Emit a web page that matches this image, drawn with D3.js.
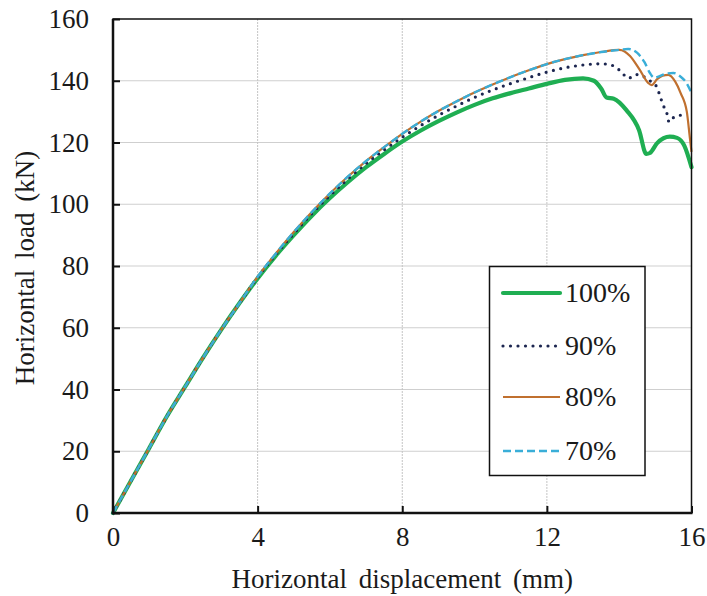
<!DOCTYPE html>
<html><head><meta charset="utf-8">
<script src="https://cdn.jsdelivr.net/npm/d3@7"></script>
<style>
html,body{margin:0;padding:0;background:#fff;}
svg text{font-family:"Liberation Serif","Times New Roman",Tinos,"Nimbus Roman","DejaVu Serif",serif !important;fill:#1a1a1a;}
</style></head>
<body><svg id="c" width="707" height="596"></svg>
<script>
// ---- data ----
const seriesNames = ["100%", "90%", "80%", "70%"];
const xTicks = [0, 4, 8, 12, 16];
const yTicks = [0, 20, 40, 60, 80, 100, 120, 140, 160];

const disp100 = [0,0.5,1,1.5,2,2.5,3,3.5,4,4.5,5,5.5,6,6.5,7,7.5,8,8.5,9,9.5,10,10.5,11,11.5,12,12.5,13,13.3,13.5,13.65,13.85,14.2,14.55,14.75,14.85,15.05,15.4,15.6,15.8,16];
const load100 = [0,10.5,21,31.5,41,50.5,59.5,68,76,83.3,90,96.3,102,107.2,112,116.3,120.3,123.8,126.9,129.7,132.2,134.3,136,137.5,139,140.3,140.8,140,137.5,134.6,134.2,130.5,124,116.3,116.6,119.8,121.9,121.5,119,112];

const disp90 = [0,0.5,1,1.5,2,2.5,3,3.5,4,4.5,5,5.5,6,6.5,7,7.5,8,8.5,9,9.5,10,10.5,11,11.5,12,12.5,13,13.5,13.8,14.05,14.25,14.48,14.65,14.85,15.04,15.13,15.22,15.32,15.38,15.46,15.55,15.77];
const load90 = [0,10.5,21,31.5,41,50.5,59.5,68,76.3,83.7,90.5,97,102.8,108.2,113.2,117.6,121.7,125.4,128.8,131.8,134.6,137,139.1,141,142.8,144.2,145.1,145.5,145,143,140.8,142,141.5,140,138,135,132,129.4,126.6,127.6,128.5,128.9];

const disp80 = [0,0.5,1,1.5,2,2.5,3,3.5,4,4.5,5,5.5,6,6.5,7,7.5,8,8.5,9,9.5,10,10.5,11,11.5,12,12.5,13,13.5,14,14.15,14.3,14.57,14.8,14.9,15.05,15.2,15.36,15.55,15.7,15.87,15.96,16];
const load80 = [0,10.5,21,31.5,41,50.5,59.5,68,76.5,84,91,97.5,103.5,109,114,118.5,122.8,126.7,130.2,133.3,136.2,138.8,141.2,143.4,145.4,147,148.3,149.3,150,149.5,148,143.5,139.3,138.6,140.5,141.6,141.9,139.7,136,130,121,117];

const disp70 = [0,0.5,1,1.5,2,2.5,3,3.5,4,4.5,5,5.5,6,6.5,7,7.5,8,8.5,9,9.5,10,10.5,11,11.5,12,12.5,13,13.5,14,14.25,14.5,14.7,14.85,14.97,15.1,15.3,15.5,15.7,15.85,16];
const load70 = [0,10.5,21,31.5,41,50.5,59.5,68,76.5,84,91,97.5,103.5,109,114,118.5,122.8,126.7,130.2,133.3,136.2,138.8,141.2,143.4,145.4,147,148.3,149.3,150,150.3,149,146,142.5,141,141.4,142.3,142.5,141.3,139.5,136];

const series = [
  {name: seriesNames[0], x: disp100, y: load100, color: "#1fae52", width: 4.2, dash: null, cap: "round"},
  {name: seriesNames[1], x: disp90,  y: load90,  color: "#1c2650", width: 3.2, dash: "0,7.5", cap: "round"},
  {name: seriesNames[2], x: disp80,  y: load80,  color: "#c0702f", width: 2.2, dash: null, cap: "butt"},
  {name: seriesNames[3], x: disp70,  y: load70,  color: "#3aaed8", width: 2.4, dash: "8,4", cap: "butt"}
];

// ---- layout ----
const FONT = '"Liberation Serif","Times New Roman",Tinos,"Nimbus Roman","DejaVu Serif",serif';
const svg = d3.select("#c");
const L = 113, R = 691.5, T = 19, B = 513;
const x = d3.scaleLinear().domain([0, 16]).range([L, R]);
const y = d3.scaleLinear().domain([0, 160]).range([B, T]);

// grid
svg.append("g").selectAll("line").data(yTicks.filter(d => d > 0 && d < 160)).join("line")
  .attr("x1", L).attr("x2", R).attr("y1", d => y(d)).attr("y2", d => y(d))
  .attr("stroke", "#cfcfcf").attr("stroke-width", 1);
svg.append("g").selectAll("line").data(xTicks.filter(d => d > 0 && d < 16)).join("line")
  .attr("y1", T).attr("y2", B).attr("x1", d => x(d)).attr("x2", d => x(d))
  .attr("stroke", "#c4c4c4").attr("stroke-width", 1).attr("stroke-dasharray", "2,1");

// lines
const line = d3.line().x(d => x(d[0])).y(d => y(d[1])).curve(d3.curveMonotoneX);
series.forEach(s => {
  const pts = s.x.map((v, i) => [v, s.y[i]]);
  svg.append("path").attr("d", line(pts)).attr("fill", "none")
    .attr("stroke", s.color).attr("stroke-width", s.width)
    .attr("stroke-linecap", s.cap).attr("stroke-linejoin", "round")
    .attr("stroke-dasharray", s.dash);
});

// frame
svg.append("rect").attr("x", L).attr("y", T).attr("width", R - L).attr("height", B - T)
  .attr("fill", "none").attr("stroke", "#111").attr("stroke-width", 1.5);
svg.append("line").attr("x1", L).attr("x2", L).attr("y1", T).attr("y2", B + 1).attr("stroke", "#111").attr("stroke-width", 2.5);
svg.append("line").attr("x1", L - 1).attr("x2", R + 1).attr("y1", B).attr("y2", B).attr("stroke", "#111").attr("stroke-width", 2.5);

// axes (ticks inward)
const xAxis = d3.axisBottom(x).tickValues(xTicks).tickSize(-7).tickPadding(14).tickFormat(d3.format("d"));
const gx = svg.append("g").attr("transform", `translate(0,${B})`).call(xAxis);
gx.attr("font-family", FONT);
gx.select(".domain").remove();
gx.selectAll("line").attr("stroke", "#111").attr("stroke-width", 2);
gx.selectAll("text").attr("font-size", 27).attr("fill", "#1a1a1a");

const yAxis = d3.axisLeft(y).tickValues(yTicks).tickSize(-7).tickPadding(24).tickFormat(d3.format("d"));
const gy = svg.append("g").attr("transform", `translate(${L},0)`).call(yAxis);
gy.attr("font-family", FONT);
gy.select(".domain").remove();
gy.selectAll("line").attr("stroke", "#111").attr("stroke-width", 2);
gy.selectAll("text").attr("font-size", 27).attr("fill", "#1a1a1a");

// axis titles
svg.append("text").attr("x", (L + R) / 2).attr("y", 588).attr("text-anchor", "middle")
  .attr("font-size", 27).attr("word-spacing", 5).text("Horizontal displacement (mm)");
svg.append("text").attr("transform", `translate(34,${(T + B) / 2 + 2}) rotate(-90)`).attr("text-anchor", "middle")
  .attr("font-size", 27).attr("word-spacing", 4).text("Horizontal load (kN)");

// legend
const lg = svg.append("g");
lg.append("rect").attr("x", 489.5).attr("y", 266.5).attr("width", 155.5).attr("height", 209)
  .attr("fill", "#fff").attr("stroke", "#111").attr("stroke-width", 1.5);
const ly = [293, 346, 397, 451];
series.forEach((s, i) => {
  lg.append("line").attr("x1", 503).attr("x2", 560).attr("y1", ly[i]).attr("y2", ly[i])
    .attr("stroke", s.color).attr("stroke-width", s.width)
    .attr("stroke-linecap", s.cap).attr("stroke-dasharray", s.dash);
  lg.append("text").attr("x", 565).attr("y", ly[i] + 9).attr("font-size", 28).text(s.name);
});
</script></body></html>
